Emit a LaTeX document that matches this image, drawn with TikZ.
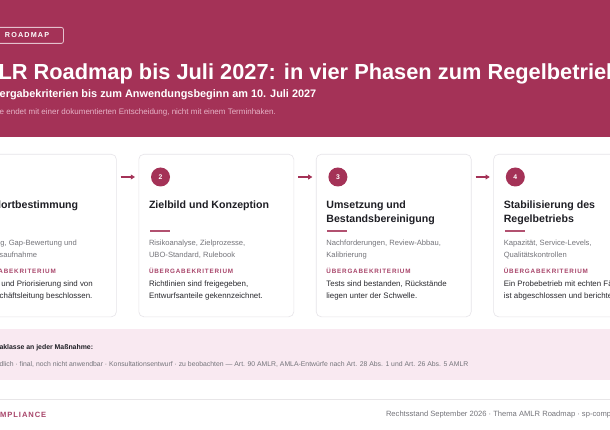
\documentclass[tikz,border=0pt]{standalone}
\usepackage{fontspec}
\setmainfont{Liberation Sans}
\usetikzlibrary{arrows.meta}
\definecolor{hdr}{HTML}{A43257}
\definecolor{labelc}{HTML}{A8456A}
\definecolor{band}{HTML}{F9E9F1}
\definecolor{cardborder}{HTML}{E6E4E8}
\definecolor{titlec}{HTML}{1F1F25}
\definecolor{grayc}{HTML}{74747A}
\definecolor{bodyc}{HTML}{2A2A2F}
\definecolor{headsub}{HTML}{E6B3C7}
\definecolor{sepc}{HTML}{E8E6E8}
\newcommand\fsz[1]{\fontsize{#1}{#1}\selectfont}
\newcommand\spacedtxt[2]{{\addfontfeature{LetterSpace=#1}#2}}
\tikzset{
  txt/.style={inner sep=0pt, outer sep=0pt, anchor=base west},
  cardbox/.style={draw=cardborder, line width=0.6pt, fill=white, rounded corners=5pt,
    inner sep=0pt, minimum width=155pt, minimum height=162.5pt, anchor=north west},
  numdot/.style={circle, fill=hdr, inner sep=0pt, minimum size=19pt, text=white,
    font=\fsz{6.8}\bfseries},
  cardtitle/.style={txt, text=titlec, font=\fsz{10.6}\bfseries},
  graytxt/.style={txt, text=grayc, font=\fsz{7.6}},
  bodytxt/.style={txt, text=bodyc, font=\fsz{7.9}},
  labeltxt/.style={txt, text=labelc, font=\fsz{6.3}\bfseries},
  accentline/.style={draw=hdr!85!white, line width=1.6pt},
  flowarrow/.style={draw=hdr, line width=1.1pt, -{Triangle[length=4.2pt,width=4.8pt]},
    shorten <=4pt, shorten >=3.5pt},
}
\newcommand\phasecard[3]{% #1 name, #2 left x, #3 number
  \node[cardbox] (card#1) at (#2,154) {};
  \node[numdot] (num#1) at (#2+22,177) {#3};
  \draw[accentline] (#2+11.5,231.3) -- (#2+31.5,231.3);
  \node[labeltxt] (lab#1) at (#2+10.5,273) {\spacedtxt{13}{ÜBERGABEKRITERIUM}};
}
\begin{document}
\begin{tikzpicture}[x=1pt,y=-1pt]
\useasboundingbox (0,0) rectangle (610,430);
\clip (0,0) rectangle (610,430);
\fill[white] (0,0) rectangle (610,430);
% header
\fill[hdr] (-5,-5) rectangle (615,137.5);
\node[draw=white!70!hdr, line width=0.8pt, rounded corners=2pt, inner sep=0pt,
  minimum width=103pt, minimum height=16pt, anchor=north west] (tag) at (-40,27) {};
\node[txt, text=white, font=\fsz{7.2}\bfseries] (tagtxt) at (5,37.9) {\spacedtxt{16}{ROADMAP}};
\node[txt, text=white, font=\fsz{21.8}\bfseries] (title) at (-1.5,79.5)
  {LR Roadmap bis Juli 2027: in vier Phasen zum Regelbetrieb};
\node[txt, text=white, font=\fsz{10.9}\bfseries] (subtitle) at (-0.3,97.5)
  {ergabekriterien bis zum Anwendungsbeginn am 10. Juli 2027};
\node[txt, text=headsub, font=\fsz{8}] (lead) at (-0.3,114.5)
  {e endet mit einer dokumentierten Entscheidung, nicht mit einem Terminhaken.};
% cards
\phasecard{1}{-38.9}{1}
\phasecard{2}{138.5}{2}
\phasecard{3}{315.9}{3}
\phasecard{4}{493.3}{4}
% card 1
\node[cardtitle] (t1a) at (-28.4,209) {Standortbestimmung};
\node[graytxt] (g1a) at (-28.4,246) {Erhebung, Gap-Bewertung und};
\node[graytxt] (g1b) at (-28.4,257.7) {Bestandsaufnahme};
\node[bodytxt] (b1a) at (-28.4,286.7) {Umfang und Priorisierung sind von};
\node[bodytxt] (b1b) at (-28.4,298.3) {der Geschäftsleitung beschlossen.};
% card 2
\node[cardtitle] (t2a) at (149,209) {Zielbild und Konzeption};
\node[graytxt] (g2a) at (149,246) {Risikoanalyse, Zielprozesse,};
\node[graytxt] (g2b) at (149,257.7) {UBO-Standard, Rulebook};
\node[bodytxt] (b2a) at (149,286.7) {Richtlinien sind freigegeben,};
\node[bodytxt] (b2b) at (149,298.3) {Entwurfsanteile gekennzeichnet.};
% card 3
\node[cardtitle] (t3a) at (326.4,209) {Umsetzung und};
\node[cardtitle] (t3b) at (326.4,222.3) {Bestandsbereinigung};
\node[graytxt] (g3a) at (326.4,246) {Nachforderungen, Review-Abbau,};
\node[graytxt] (g3b) at (326.4,257.7) {Kalibrierung};
\node[bodytxt] (b3a) at (326.4,286.7) {Tests sind bestanden, Rückstände};
\node[bodytxt] (b3b) at (326.4,298.3) {liegen unter der Schwelle.};
% card 4
\node[cardtitle] (t4a) at (503.8,209) {Stabilisierung des};
\node[cardtitle] (t4b) at (503.8,222.3) {Regelbetriebs};
\node[graytxt] (g4a) at (503.8,246) {Kapazität, Service-Levels,};
\node[graytxt] (g4b) at (503.8,257.7) {Qualitätskontrollen};
\node[bodytxt] (b4a) at (503.8,286.7) {Ein Probebetrieb mit echten Fällen};
\node[bodytxt] (b4b) at (503.8,298.3) {ist abgeschlossen und berichtet.};
% arrows
\draw[flowarrow] (card1.east |- num1) -- (card2.west |- num2);
\draw[flowarrow] (card2.east |- num2) -- (card3.west |- num3);
\draw[flowarrow] (card3.east |- num3) -- (card4.west |- num4);
% band
\node[fill=band, inner sep=0pt, minimum width=630pt, minimum height=51.5pt,
  anchor=north west] (bandbox) at (-10,328.5) {};
\node[txt, text=titlec, font=\fsz{6.9}\bfseries] (bandhead) at (-0.5,349.3)
  {aklasse an jeder Maßnahme:};
\node[txt, text=grayc, font=\fsz{6.85}] (bandtext) at (-0.5,366)
  {dlich · final, noch nicht anwendbar · Konsultationsentwurf · zu beobachten — Art. 90 AMLR, AMLA-Entwürfe nach Art. 28 Abs. 1 und Art. 26 Abs. 5 AMLR};
% footer
\coordinate (sepL) at (-5,399.3);
\coordinate (sepR) at (615,399.3);
\draw[sepc, line width=0.6pt] (sepL) -- (sepR);
\node[txt, text=labelc, font=\fsz{7.6}\bfseries] (brand) at (0.2,417)
  {\spacedtxt{12}{MPLIANCE}};
\node[txt, text=grayc, font=\fsz{7.6}] (foot) at (386,416.7)
  {Rechtsstand September 2026 · Thema AMLR Roadmap · sp-compliance.de};
\end{tikzpicture}
\end{document}
